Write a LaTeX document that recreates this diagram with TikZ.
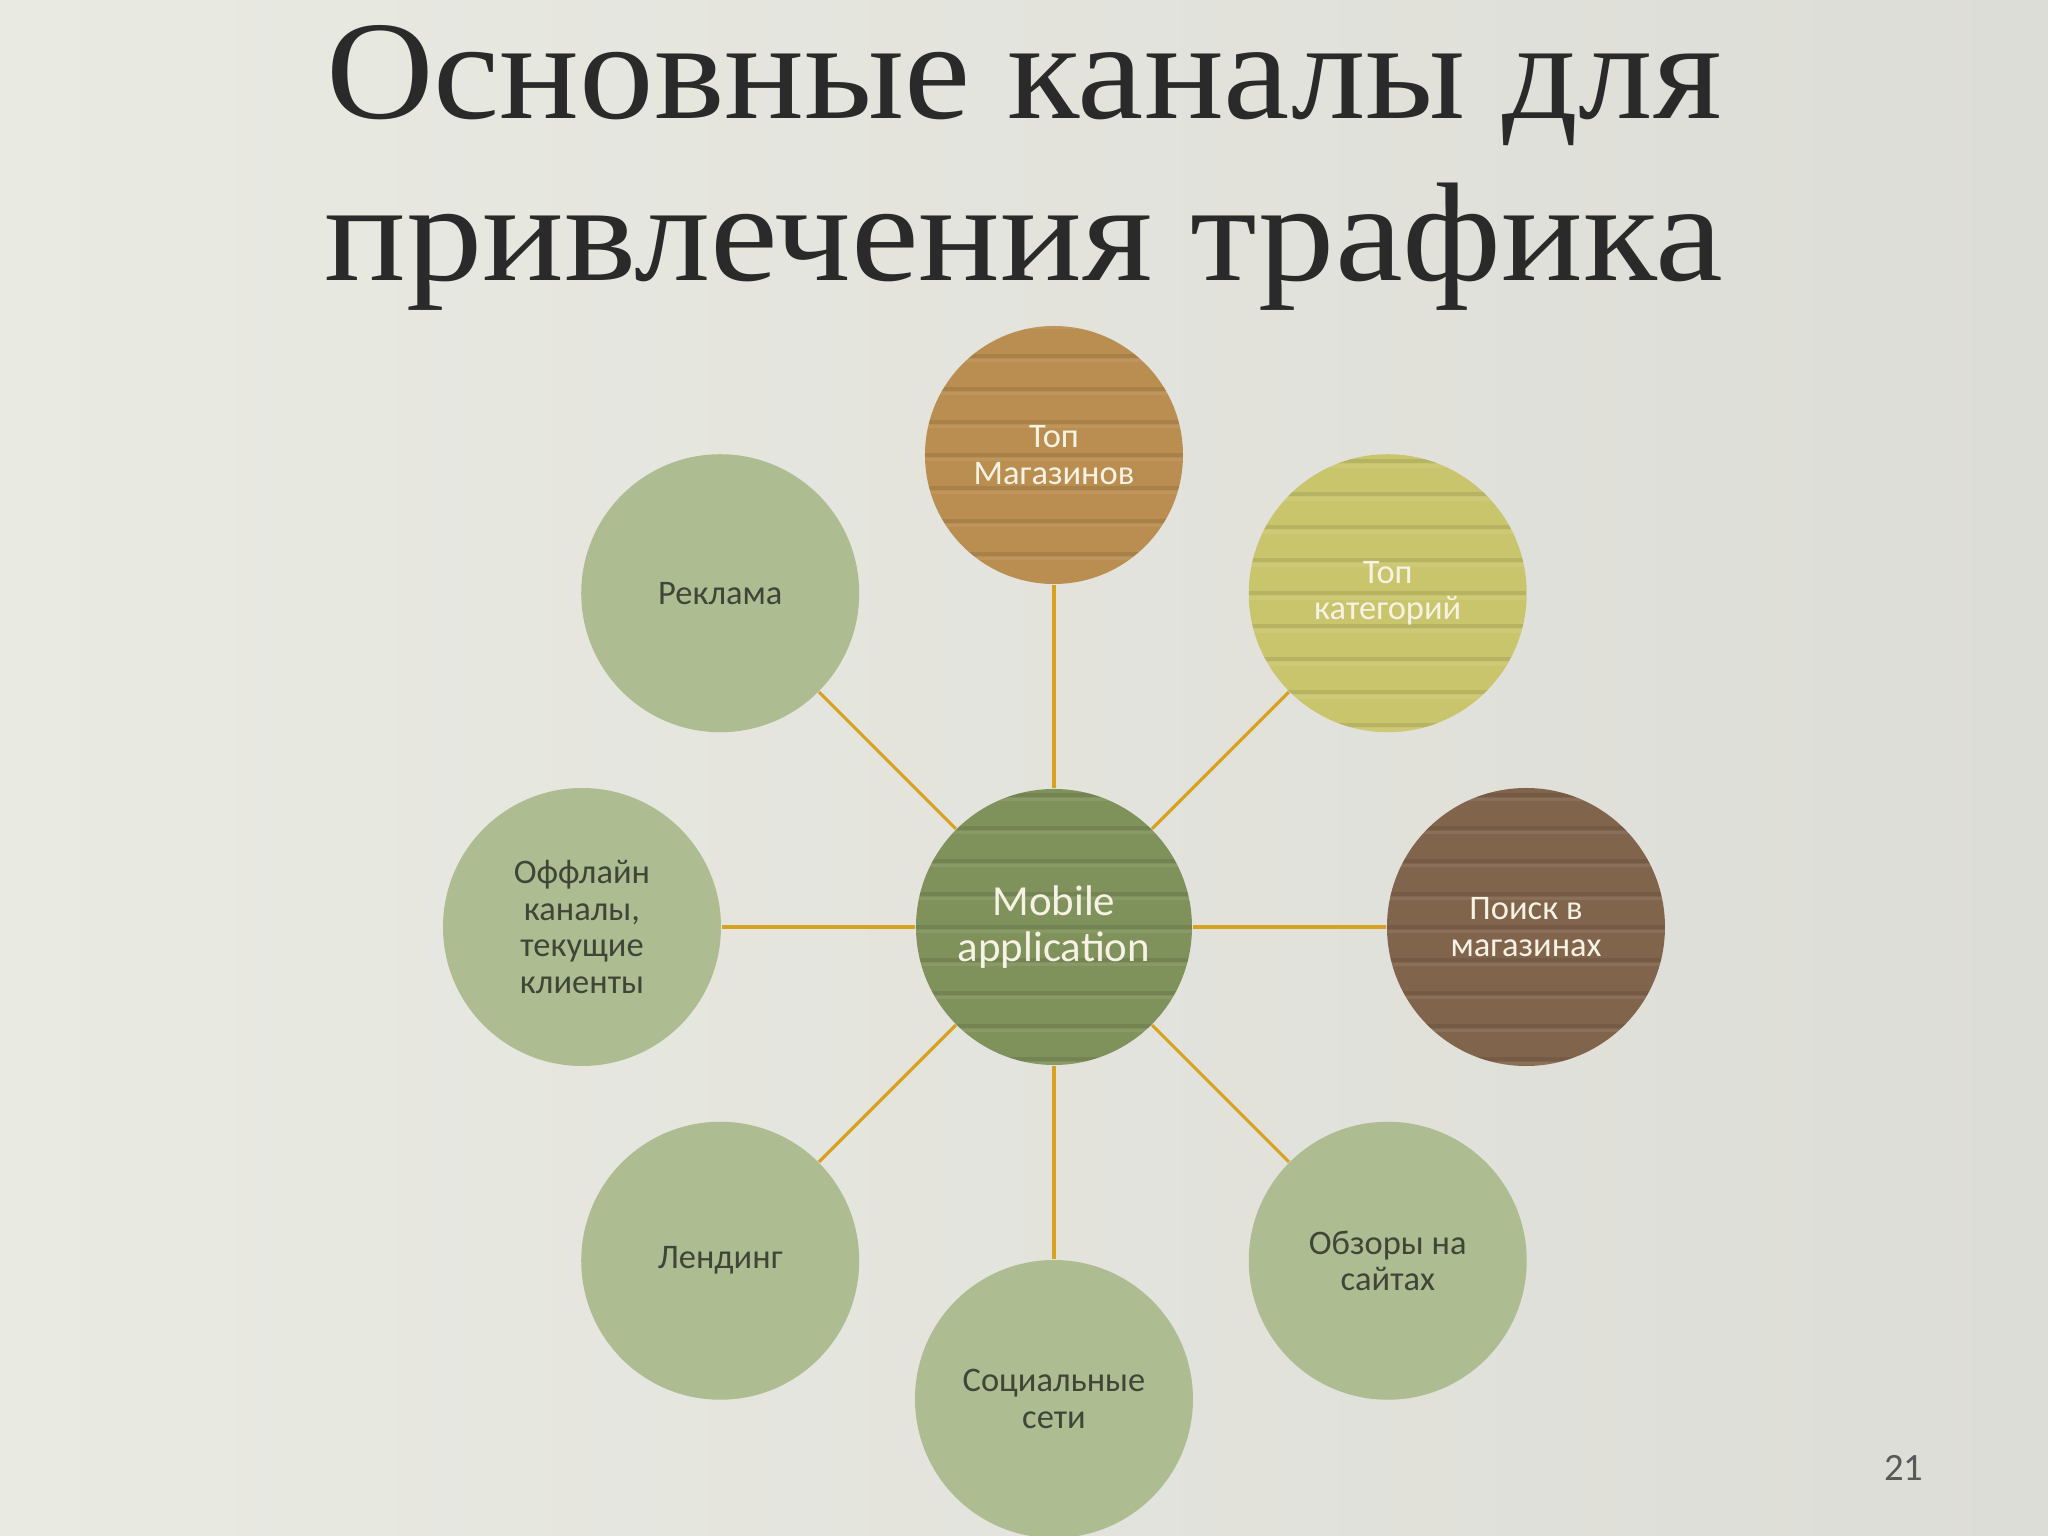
\documentclass[tikz,border=0pt]{standalone}
\usepackage{fontspec}
\setmainfont{Carlito}
\newfontfamily\titlefont{Liberation Serif}

\definecolor{bgleft}{HTML}{E9EAE2}
\definecolor{bgright}{HTML}{DDDDD7}
\definecolor{palegreen}{HTML}{ADBD91}
\definecolor{appgreen}{HTML}{7F925B}
\definecolor{shopgold}{HTML}{B98E50}
\definecolor{catyellow}{HTML}{C9C56C}
\definecolor{searchbrown}{HTML}{81644C}
\definecolor{linkgold}{HTML}{D6A21F}
\definecolor{darktext}{HTML}{3F4638}
\definecolor{lighttext}{HTML}{F6F2E4}
\definecolor{titletext}{HTML}{2A2A2A}

\begin{document}
\begin{tikzpicture}[
    bubble/.style={circle, minimum size=2.78cm, inner sep=0pt, align=center,
        font=\fontsize{9.8}{10.4}\selectfont},
    pale/.style={bubble, fill=palegreen, text=darktext},
    striped/.style={bubble, text=lighttext,
        path picture={
            \foreach \y in {-1.32,-0.99,...,1.33} {
                \draw[black, opacity=0.09, line width=1.1pt]
                    ([yshift=\y cm]path picture bounding box.west) --
                    ([yshift=\y cm]path picture bounding box.east);
                \draw[white, opacity=0.08, line width=1.1pt]
                    ([yshift=\y cm-1.3pt]path picture bounding box.west) --
                    ([yshift=\y cm-1.3pt]path picture bounding box.east);
            }
        }},
    link/.style={draw=linkgold, line width=0.9pt}
]
\useasboundingbox (-10.54,-6.09) rectangle (9.94,9.27);
\shade[left color=bgleft, right color=bgright] (-10.54,-6.09) rectangle (9.94,9.27);

% title
\node[titletext, font=\titlefont\fontsize{40}{40}\selectfont, xscale=1.06, anchor=base]
    (title1) at (-0.30,8.08) {Основные каналы для};
\node[titletext, font=\titlefont\fontsize{40}{40}\selectfont, xscale=1.085, anchor=base]
    (title2) at (-0.30,6.46) {привлечения трафика};

% hub
\node[striped, fill=appgreen, minimum size=2.76cm, font=\fontsize{12.2}{13}\selectfont]
    (app) at (0,0) {Mobile\\application};

% channels
\node[striped, fill=shopgold, minimum size=2.58cm] (shops) at (90:4.72) {Топ\\Магазинов};
\node[striped, fill=catyellow] (cats) at (45:4.72) {Топ\\категорий};
\node[striped, fill=searchbrown] (search) at (0:4.72) {Поиск в\\магазинах};
\node[pale] (reviews) at (-45:4.72) {Обзоры на\\сайтах};
\node[pale] (social) at (-90:4.72) {Социальные\\сети};
\node[pale] (landing) at (-135:4.72) {Лендинг};
\node[pale] (offline) at (180:4.72) {Оффлайн\\каналы,\\текущие\\клиенты};
\node[pale] (ads) at (135:4.72) {Реклама};

\foreach \n in {shops,cats,search,reviews,social,landing,offline,ads}
    \draw[link] (app) -- (\n);

% page number
\node[text=black!65, font=\fontsize{11}{11}\selectfont] (pagenum) at (8.50,-5.41) {21};
\end{tikzpicture}
\end{document}
